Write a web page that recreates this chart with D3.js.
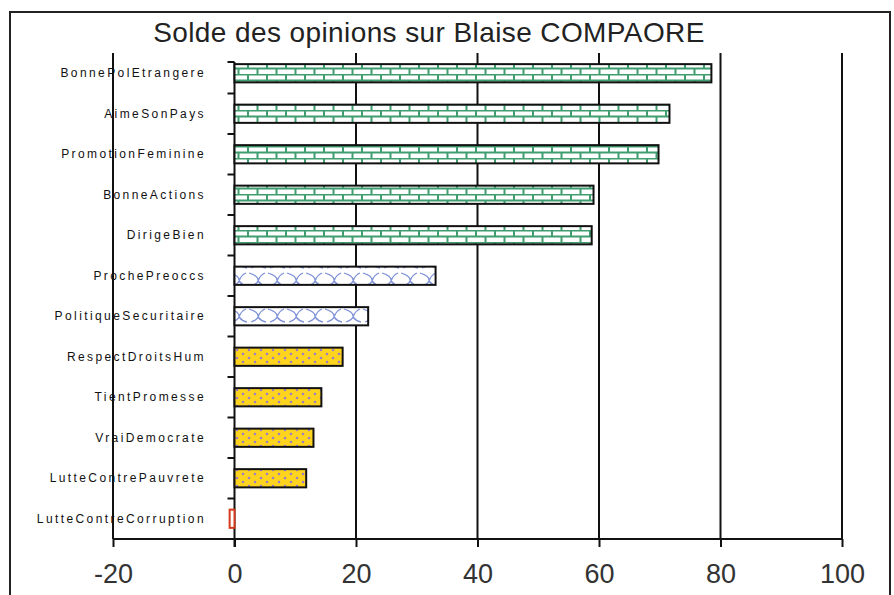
<!DOCTYPE html>
<html>
<head>
<meta charset="utf-8">
<script src="https://cdn.jsdelivr.net/npm/d3@7"></script>
<style>
  body { margin: 0; background: #fff; }
  svg { display: block; }
  .cat text { font-family: "Liberation Sans", Arial, sans-serif; font-size: 12px; letter-spacing: 2.4px; fill: #111; }
  .xaxis text { font-family: "Liberation Sans", Arial, sans-serif; font-size: 27px; fill: #333; }
</style>
</head>
<body>
<div class="chart"></div>
<script>
// categories, top to bottom
var categories = ["BonnePolEtrangere", "AimeSonPays", "PromotionFeminine", "BonneActions",
                  "DirigeBien", "ProchePreoccs", "PolitiqueSecuritaire", "RespectDroitsHum",
                  "TientPromesse", "VraiDemocrate", "LutteContrePauvrete", "LutteContreCorruption"];
var values = [78.5, 71.6, 69.8, 59.1, 58.8, 33.1, 22.0, 17.8, 14.3, 13.0, 11.8, -0.8];
// which fill group each bar belongs to
var groups = ["brick", "brick", "brick", "brick", "brick", "wave", "wave",
              "dots", "dots", "dots", "dots", "neg"];
var xTicks = [-20, 0, 20, 40, 60, 80, 100];
var title = "Solde des opinions sur Blaise COMPAORE";

var W = 894, H = 595;
var plot = {left: 113, right: 842, top: 53, bottom: 539};

var svg = d3.select(".chart").append("svg")
    .attr("width", W).attr("height", H);

// patterns
var defs = svg.append("defs");

var brick = defs.append("pattern").attr("id", "brick")
    .attr("patternUnits", "userSpaceOnUse")
    .attr("width", 19).attr("height", 12)
    .attr("y", 2);
brick.append("rect").attr("width", 19).attr("height", 12).attr("fill", "#fff");
brick.append("path")
    .attr("d", "M0,0.5H19M0,6.5H19M1,0V6M10.5,6V12")
    .attr("stroke", "#3f9d6f").attr("stroke-width", 2).attr("fill", "none");

var wave = defs.append("pattern").attr("id", "wave")
    .attr("patternUnits", "userSpaceOnUse")
    .attr("width", 19).attr("height", 18);
wave.append("rect").attr("width", 19).attr("height", 18).attr("fill", "#fff");
wave.append("path")
    .attr("d", "M2,3 Q12,6 11,11 Q10,14 4,16 M11,11 Q14,15 19,16 M11,11 Q13,5 18,3")
    .attr("stroke", "#7f92d8").attr("stroke-width", 1.3).attr("fill", "none");

var dots = defs.append("pattern").attr("id", "dots")
    .attr("patternUnits", "userSpaceOnUse")
    .attr("width", 12).attr("height", 8);
dots.append("rect").attr("width", 12).attr("height", 8).attr("fill", "#ffd41f");
dots.append("circle").attr("cx", 3).attr("cy", 2).attr("r", 1.3).attr("fill", "#9b7fc4");
dots.append("circle").attr("cx", 9).attr("cy", 6).attr("r", 1.3).attr("fill", "#9b7fc4");

var fills = {brick: "url(#brick)", wave: "url(#wave)", dots: "url(#dots)", neg: "#fff"};
var strokes = {brick: "#111", wave: "#111", dots: "#111", neg: "#d43a1a"};

// outer frame
svg.append("rect")
    .attr("x", 10).attr("y", 12).attr("width", 880).attr("height", 600)
    .attr("fill", "none").attr("stroke", "#222").attr("stroke-width", 2);

svg.append("text")
    .attr("x", 429).attr("y", 42)
    .attr("text-anchor", "middle")
    .style("font-family", "'Liberation Sans', Arial, sans-serif")
    .style("font-size", "28px")
    .style("letter-spacing", "0.4px")
    .style("fill", "#222")
    .text(title);

// scales
var x = d3.scaleLinear().domain([-20, 100]).range([plot.left, plot.right]);
var y = d3.scaleBand().domain(categories).range([plot.top, plot.bottom]).paddingInner(0.55).paddingOuter(0.275);

// vertical gridlines
svg.append("g").selectAll("line")
    .data(xTicks.filter(function(d) { return d !== 0; }))
  .enter().append("line")
    .attr("x1", x).attr("x2", x)
    .attr("y1", plot.top).attr("y2", plot.bottom)
    .attr("stroke", "#111").attr("stroke-width", 2);

// x axis
var xAxis = d3.axisBottom(x).tickValues(xTicks).tickSize(8).tickPadding(17)
    .tickFormat(function(d) { return String(d); });
var gx = svg.append("g")
    .attr("class", "xaxis")
    .attr("transform", "translate(0," + plot.bottom + ")")
    .call(xAxis);
gx.select(".domain").attr("stroke", "#111").attr("stroke-width", 2).attr("d", "M" + plot.left + ",0H" + plot.right);
gx.selectAll(".tick line").attr("stroke", "#111").attr("stroke-width", 2);
gx.selectAll(".tick text").attr("dy", "0.71em");

// zero (category) axis with ticks between categories
var zx = x(0);
var bounds = d3.range(categories.length + 1).map(function(i) { return plot.top + i * (plot.bottom - plot.top) / categories.length; });
var gz = svg.append("g");
gz.append("line")
    .attr("x1", zx).attr("x2", zx)
    .attr("y1", plot.top + 9).attr("y2", plot.bottom + 8)
    .attr("stroke", "#111").attr("stroke-width", 2);
gz.selectAll(".ctick")
    .data(bounds.slice(0, -1).map(function(b, i) { return i === 0 ? b + 9 : b; }))
  .enter().append("line")
    .attr("class", "ctick")
    .attr("x1", zx - 7).attr("x2", zx)
    .attr("y1", function(d) { return d; }).attr("y2", function(d) { return d; })
    .attr("stroke", "#111").attr("stroke-width", 2);

// bars
svg.append("g").selectAll("rect")
    .data(categories)
  .enter().append("rect")
    .attr("x", function(d, i) { return x(Math.min(0, values[i])); })
    .attr("y", function(d) { return y(d); })
    .attr("width", function(d, i) { return Math.abs(x(values[i]) - x(0)); })
    .attr("height", y.bandwidth())
    .attr("fill", function(d, i) { return fills[groups[i]]; })
    .attr("stroke", function(d, i) { return strokes[groups[i]]; })
    .attr("stroke-width", 2);

// category labels
svg.append("g").attr("class", "cat").selectAll("text")
    .data(categories)
  .enter().append("text")
    .attr("x", 206)
    .attr("y", function(d) { return y(d) + y.bandwidth() / 2; })
    .attr("dy", "0.35em")
    .attr("text-anchor", "end")
    .text(function(d) { return d; });
</script>
</body>
</html>
